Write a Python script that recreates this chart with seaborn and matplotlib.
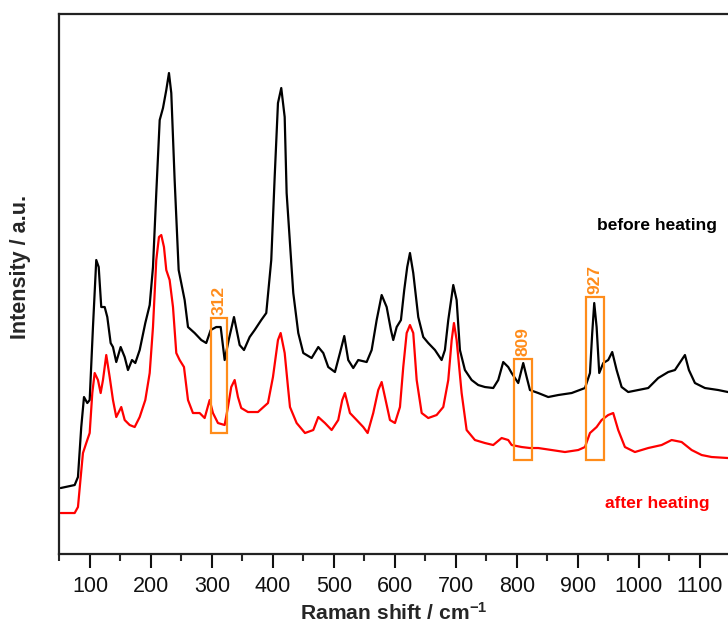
import matplotlib
matplotlib.use("Agg")
import matplotlib.pyplot as plt
from matplotlib.patches import Rectangle
from matplotlib.ticker import FixedLocator
import seaborn as sns
import pandas as pd

# Raman shift (cm^-1) and intensity (a.u.) of the sample before heating
before_shift = [52.0, 74.9, 80.3, 85.7, 90.2, 95.6, 99.5, 104.9, 110.3, 114.3, 118.5, 124.1,
                128.4, 133.9, 137.7, 143.1, 150.3, 156.9, 162.3, 168.9, 174.3, 181.5, 190.7,
                197.9, 203.3, 208.7, 214.3, 219.7, 225.1, 229.5, 233.3, 238.8, 245.4, 255.2,
                260.7, 271.6, 282.5, 290.6, 297.9, 307.0, 314.3, 320.8, 327.4, 336.1, 345.4,
                352.5, 361.8, 370.0, 380.8, 389.0, 397.2, 402.8, 408.2, 413.6, 419.2, 422.4,
                427.9, 433.3, 441.5, 449.7, 463.4, 474.3, 482.5, 490.6, 501.6, 509.8, 516.9,
                523.4, 531.6, 539.8, 553.6, 561.8, 570.0, 578.2, 586.4, 593.4, 597.2, 602.8,
                609.8, 615.2, 620.1, 624.6, 630.0, 638.2, 646.4, 654.6, 665.6, 676.5, 681.9,
                687.4, 695.6, 701.1, 706.5, 714.7, 725.7, 736.5, 747.5, 761.1, 769.3, 777.5,
                785.7, 791.3, 802.1, 810.3, 815.9, 821.3, 834.9, 851.3, 867.7, 889.7, 911.5,
                919.7, 923.4, 926.7, 930.6, 934.9, 941.5, 949.6, 956.2, 963.4, 971.6, 982.4,
                998.8, 1015.2, 1031.6, 1048.0, 1059.0, 1070.0, 1075.4, 1081.9, 1091.8, 1108.2,
                1130.0, 1145.9]
before_int = [66, 69, 77, 127, 157, 151, 154, 227, 294, 287, 247, 247,
              237, 211, 207, 192, 207, 197, 184, 194, 191, 204, 231,
              249, 287, 361, 434, 446, 464, 481, 461, 374, 284, 254,
              227, 221, 214, 211, 224, 227, 227, 194, 214, 237, 209,
              204, 217, 224, 234, 241, 294, 377, 451, 466, 437, 361,
              311, 261, 221, 201, 196, 207, 201, 187, 182, 201, 218,
              194, 186, 194, 192, 204, 234, 259, 247, 224, 214, 227,
              234, 264, 287, 301, 281, 237, 217, 211, 204, 194, 204,
              234, 269, 254, 204, 184, 174, 169, 167, 166, 174, 192,
              187, 181, 171, 191, 177, 164, 161, 157, 159, 161, 166,
              181, 221, 251, 227, 181, 191, 194, 202, 184, 167, 162,
              164, 166, 176, 182, 184, 194, 199, 184, 171, 166,
              164, 162]

# Raman shift (cm^-1) and intensity (a.u.) of the sample after heating
after_shift = [52.0, 74.9, 80.3, 84.8, 88.5, 93.9, 99.5, 103.8, 107.7, 113.1, 117.5, 121.3,
               126.7, 132.3, 137.7, 143.1, 151.3, 156.9, 165.1, 173.3, 181.5, 190.7, 197.9,
               203.3, 208.7, 213.1, 216.9, 221.3, 225.1, 230.6, 236.1, 241.5, 247.0, 254.1,
               260.7, 268.8, 279.8, 288.0, 296.2, 301.6, 309.8, 320.8, 326.2, 331.6, 337.2,
               342.6, 348.0, 359.0, 375.4, 391.8, 400.0, 408.2, 412.6, 419.2, 424.6, 427.9,
               438.8, 452.5, 466.1, 474.3, 485.2, 496.2, 507.0, 513.6, 518.0, 526.2, 537.2,
               548.0, 555.2, 564.4, 572.6, 578.2, 583.6, 591.8, 600.0, 608.2, 613.6, 619.2,
               624.6, 630.0, 635.6, 643.8, 654.6, 668.3, 679.2, 687.4, 693.0, 696.7, 701.1,
               709.3, 717.5, 731.1, 747.5, 761.1, 774.9, 785.7, 791.3, 807.7, 821.3, 834.9,
               856.9, 878.7, 900.5, 911.5, 919.7, 930.6, 938.8, 949.6, 957.8, 966.0, 977.0,
               993.4, 1015.2, 1037.2, 1053.6, 1070.0, 1086.4, 1102.8, 1119.2, 1145.9]
after_int = [41, 41, 47, 77, 101, 111, 121, 161, 181, 174, 161, 174,
             199, 177, 154, 137, 147, 134, 129, 127, 137, 154, 181,
             227, 294, 317, 319, 307, 284, 274, 247, 201, 194, 187,
             154, 141, 141, 136, 154, 141, 131, 129, 147, 167, 174,
             157, 146, 142, 142, 151, 177, 214, 221, 201, 167, 147,
             131, 121, 124, 137, 131, 124, 134, 154, 161, 141, 134,
             127, 121, 141, 164, 172, 157, 134, 131, 147, 187, 221,
             229, 221, 174, 141, 136, 139, 147, 174, 214, 231, 214,
             161, 124, 114, 111, 109, 116, 114, 109, 107, 106, 106,
             104, 102, 104, 107, 121, 127, 134, 139, 141, 124, 107,
             102, 106, 109, 114, 112, 104, 99, 97, 96]

# Highlighted bands: label, shift range and intensity range of each frame
band_labels = ["312", "809", "927"]
band_x0 = [298, 795, 914]
band_x1 = [325, 825, 943]
band_y0 = [121, 94, 94]
band_y1 = [236, 195, 257]

x_ticks = [100, 200, 300, 400, 500, 600, 700, 800, 900, 1000, 1100]

before = pd.DataFrame({"shift": before_shift, "intensity": before_int})
after = pd.DataFrame({"shift": after_shift, "intensity": after_int})

sns.set_theme(style="ticks")
plt.rcParams["font.family"] = ["Liberation Sans", "DejaVu Sans"]
plt.rcParams["mathtext.fontset"] = "custom"
plt.rcParams["mathtext.rm"] = "Liberation Sans"
plt.rcParams["mathtext.bf"] = "Liberation Sans:bold"

fig = plt.figure(figsize=(7.28, 6.29), dpi=100)
ax = fig.add_axes([0.0817, 0.1192, 0.9183, 0.8585])

sns.lineplot(data=before, x="shift", y="intensity", color="black", lw=1.6,
             errorbar=None, ax=ax)
sns.lineplot(data=after, x="shift", y="intensity", color="#ff0000", lw=1.6,
             errorbar=None, ax=ax)

orange = "#ff8c1a"
for lab, x0, x1, y0, y1 in zip(band_labels, band_x0, band_x1, band_y0, band_y1):
    ax.add_patch(Rectangle((x0, y0), x1 - x0, y1 - y0, fill=False,
                           edgecolor=orange, lw=1.6, zorder=3))
    ax.text((x0 + x1) / 2, y1 + 3, lab, rotation=90, ha="center", va="bottom",
            color=orange, fontsize=12.5, fontweight="bold")

ax.text(931, 329, "before heating", color="black", fontsize=12.5,
        fontweight="bold", ha="left", va="center")
ax.text(944, 51, "after heating", color="#ff0000", fontsize=12.5,
        fontweight="bold", ha="left", va="center")

ax.set_xlim(50, 1146)
ax.set_ylim(0, 540)
ax.xaxis.set_major_locator(FixedLocator(x_ticks))
ax.xaxis.set_minor_locator(FixedLocator([50 + 100 * i for i in range(11)]))
ax.set_yticks([])
ax.tick_params(axis="x", which="major", length=10, width=1.5, direction="out",
               labelsize=15.5, pad=6, colors="#111111")
ax.tick_params(axis="x", which="minor", length=5, width=1.5, direction="out")

for side in ["left", "bottom", "top"]:
    ax.spines[side].set_linewidth(1.6)
    ax.spines[side].set_color("#222222")
ax.spines["right"].set_visible(False)

ax.set_xlabel("Raman shift / cm$\\mathbf{^{-1}}$", fontsize=15.2, fontweight="bold")
ax.set_ylabel("Intensity / a.u.", fontsize=15.5, fontweight="bold")
ax.xaxis.set_label_coords(0.5, -0.088)
ax.yaxis.set_label_coords(-0.043, 0.531)

fig.savefig("out.png", dpi=100)
